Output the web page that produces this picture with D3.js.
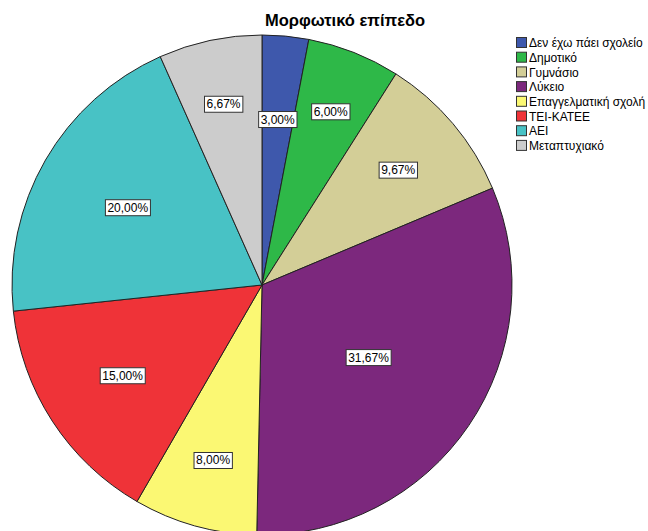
<!DOCTYPE html>
<html>
<head>
<meta charset="utf-8">
<script src="https://cdn.jsdelivr.net/npm/d3@7"></script>
<style>
  body { margin: 0; background: #fff; }
  text { font-family: "Liberation Sans", Arial, sans-serif; }
</style>
</head>
<body>
<script>
// Education level categories and percentages
const categories = ["Δεν έχω πάει σχολείο", "Δημοτικό", "Γυμνάσιο", "Λύκειο",
  "Επαγγελματική σχολή", "ΤΕΙ-ΚΑΤΕΕ", "ΑΕΙ", "Μεταπτυχιακό"];
const values = [3.00, 6.00, 9.67, 31.67, 8.00, 15.00, 20.00, 6.67];
const colors = ["#3E58AC", "#2EB848", "#D3CE97", "#7C287D", "#FBF873", "#EF3338", "#48C2C5", "#CCCCCC"];

const width = 648, height = 531;
const cx = 262, cy = 285, r = 250;

const svg = d3.select("body").append("svg")
    .attr("width", width)
    .attr("height", height);

// title
svg.append("text")
    .attr("x", 345)
    .attr("y", 26)
    .attr("text-anchor", "middle")
    .style("font-size", "16.5px")
    .style("font-weight", "bold")
    .text("Μορφωτικό επίπεδο");

const data = categories.map((c, i) => ({ name: c, value: values[i], color: colors[i] }));
const total = d3.sum(values);

const pie = d3.pie()
    .sort(null)
    .value(d => d.value);

const arc = d3.arc()
    .innerRadius(0)
    .outerRadius(r);

const g = svg.append("g")
    .attr("transform", "translate(" + cx + "," + cy + ")");

const arcs = pie(data);

g.selectAll("path")
    .data(arcs)
    .join("path")
    .attr("d", arc)
    .attr("fill", d => d.data.color)
    .attr("stroke", "#222")
    .attr("stroke-width", 1);

const fmt = v => v.toFixed(2).replace(".", ",") + "%";

const labels = g.selectAll("g.lbl")
    .data(arcs)
    .join("g")
    .attr("class", "lbl");

labels.append("text")
    .attr("text-anchor", "middle")
    .attr("dy", "0.35em")
    .style("font-size", "12px")
    .text(d => fmt(d.data.value));

// bigger slices get labels nearer the centre; if the box doesn't fit
// across the slice, fall back to the area centroid
labels.each(function(d) {
    const sel = d3.select(this);
    const b = sel.select("text").node().getBBox();
    const a = (d.endAngle - d.startAngle) / 2;
    const mid = (d.startAngle + d.endAngle) / 2;
    let dist = r * (0.8 - 0.9 * d.data.value / total);
    if (2 * dist * Math.sin(a) < b.width + 6) dist = 2 * r * Math.sin(a) / (3 * a);
    sel.attr("transform", "translate(" + [dist * Math.sin(mid), -dist * Math.cos(mid)] + ")");
    sel.insert("rect", "text")
        .attr("x", b.x - 2)
        .attr("y", b.y - 1)
        .attr("width", b.width + 4)
        .attr("height", b.height + 2)
        .attr("fill", "#fff")
        .attr("stroke", "#333")
        .attr("stroke-width", 1);
});

// legend
const legend = svg.append("g")
    .attr("transform", "translate(516,37)");

const item = legend.selectAll("g")
    .data(data)
    .join("g")
    .attr("transform", (d, i) => "translate(0," + (i * 14.7) + ")");

item.append("rect")
    .attr("x", 0.5)
    .attr("y", 0.5)
    .attr("width", 10)
    .attr("height", 10)
    .attr("fill", d => d.color)
    .attr("stroke", "#333");

item.append("text")
    .attr("x", 13)
    .attr("y", 6)
    .attr("dy", "0.35em")
    .style("font-size", "12px")
    .text(d => d.name);
</script>
</body>
</html>
